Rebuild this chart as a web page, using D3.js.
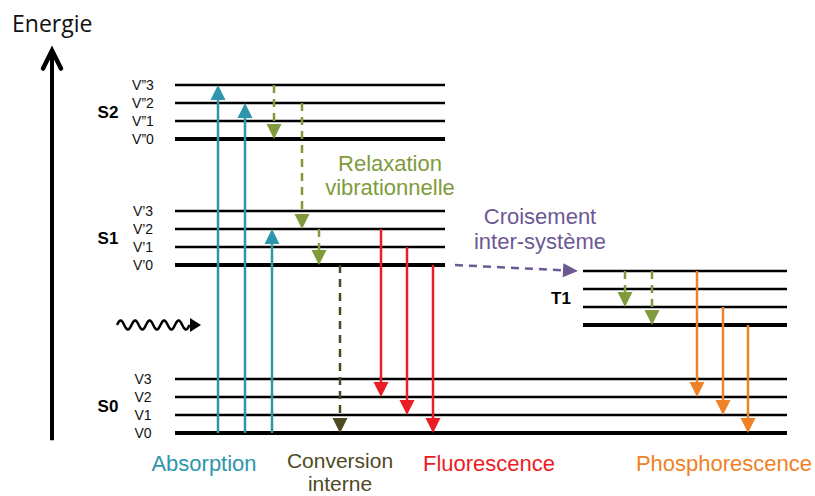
<!DOCTYPE html>
<html>
<head>
<meta charset="utf-8">
<script src="https://cdn.jsdelivr.net/npm/d3@7"></script>
<style>
  body { margin: 0; background: #fff; }
  svg { display: block; font-family: "Liberation Sans", Arial, sans-serif; }
</style>
</head>
<body>
<div id="chart"></div>
<script>
// electronic states: base energy (arbitrary units, 1 unit = one vibrational step)
var stateNames = ['S0', 'S1', 'S2', 'T1'];
var stateEnergy = [0, 9.33, 16.33, 6];
var stateSpan = [[175, 787], [175, 445], [175, 445], [583, 787]];
var vibLabels = [
    ['V0', 'V1', 'V2', 'V3'],
    ['V\u20190', 'V\u20191', 'V\u20192', 'V\u20193'],
    ['V\u201D0', 'V\u201D1', 'V\u201D2', 'V\u201D3'],
    null
];

// transitions: [type, x, fromState, fromVib, toState, toVib]
var transitions = [
    ['abs', 218, 'S0', 0, 'S2', 3],
    ['abs', 245, 'S0', 0, 'S2', 2],
    ['abs', 272, 'S0', 0, 'S1', 2],
    ['rel', 274, 'S2', 3, 'S2', 0],
    ['rel', 302, 'S2', 2, 'S1', 2],
    ['rel', 319, 'S1', 2, 'S1', 0],
    ['rel', 625, 'T1', 3, 'T1', 1],
    ['rel', 652, 'T1', 3, 'T1', 0],
    ['ic', 340, 'S1', 0, 'S0', 0],
    ['fluo', 381, 'S1', 2, 'S0', 2],
    ['fluo', 407, 'S1', 1, 'S0', 1],
    ['fluo', 433, 'S1', 0, 'S0', 0],
    ['phos', 697, 'T1', 3, 'S0', 2],
    ['phos', 723, 'T1', 1, 'S0', 1],
    ['phos', 748, 'T1', 0, 'S0', 0]
];
// inter-system crossing: [x0, state, vib, x1, state, vib]
var isc = [455, 'S1', 0, 578, 'T1', 3];

var typeColor = {
    abs: '#2e95ab', rel: '#7f9b3b', ic: '#4f4a23',
    fluo: '#ec1c24', phos: '#ef8127', isc: '#6c5993'
};

var width = 815, height = 496;
var svg = d3.select('#chart').append('svg')
    .attr('width', width).attr('height', height);

var y = d3.scaleLinear().domain([0, 20]).range([433, 73]);
var x = d3.scaleLinear().domain([0, 815]).range([0, 815]);

var energyOf = function(s, v) {
    return stateEnergy[stateNames.indexOf(s)] + v;
};

// energy axis
svg.append('line')
    .attr('x1', 52).attr('x2', 52)
    .attr('y1', y(-0.4)).attr('y2', y(21.3))
    .attr('stroke', '#000').attr('stroke-width', 4);
svg.append('path')
    .attr('d', 'M43,' + (y(21.3) + 19) + ' L52,' + (y(21.3) + 1) + ' L61,' + (y(21.3) + 19))
    .attr('fill', 'none').attr('stroke', '#000').attr('stroke-width', 4.5)
    .attr('stroke-linecap', 'round').attr('stroke-linejoin', 'miter');
svg.append('text')
    .attr('x', 12).attr('y', 32)
    .attr('font-size', 23).attr('font-family', '"Open Sans", sans-serif')
    .attr('fill', '#111')
    .text('Energie');

// vibrational levels
stateNames.forEach(function(s, i) {
    var g = svg.append('g');
    g.selectAll('line').data([0, 1, 2, 3]).enter().append('line')
        .attr('x1', x(stateSpan[i][0])).attr('x2', x(stateSpan[i][1]))
        .attr('y1', function(v) { return y(energyOf(s, v)); })
        .attr('y2', function(v) { return y(energyOf(s, v)); })
        .attr('stroke', '#000')
        .attr('stroke-width', function(v) { return v === 0 ? 4 : 2.5; });
    if (vibLabels[i]) {
        g.selectAll('text').data(vibLabels[i]).enter().append('text')
            .attr('x', 143)
            .attr('y', function(d, v) { return y(energyOf(s, v)); })
            .attr('text-anchor', 'middle').attr('dominant-baseline', 'central')
            .attr('font-size', 14).attr('fill', '#111')
            .text(function(d) { return d; });
    }
    g.append('text')
        .attr('x', s === 'T1' ? 561 : 108)
        .attr('y', y(energyOf(s, 1.5)))
        .attr('text-anchor', 'middle').attr('dominant-baseline', 'central')
        .attr('font-size', 17).attr('font-weight', 'bold')
        .text(s);
});

// arrows
var drawArrow = function(x1, y1, x2, y2, color, dashed, head) {
    var ang = Math.atan2(y2 - y1, x2 - x1);
    var hl = head[0], hw = head[1];
    var bx = x2 - hl * Math.cos(ang), by = y2 - hl * Math.sin(ang);
    svg.append('line')
        .attr('x1', x1).attr('y1', y1).attr('x2', bx).attr('y2', by)
        .attr('stroke', color).attr('stroke-width', 2.5)
        .attr('stroke-dasharray', dashed ? '8,6' : null);
    var px = -Math.sin(ang) * hw / 2, py = Math.cos(ang) * hw / 2;
    svg.append('path')
        .attr('d', 'M' + x2 + ',' + y2 + 'L' + (bx + px) + ',' + (by + py) +
            'L' + (bx - px) + ',' + (by - py) + 'Z')
        .attr('fill', color);
};

transitions.forEach(function(t) {
    var dashed = t[0] === 'rel' || t[0] === 'ic';
    drawArrow(x(t[1]), y(energyOf(t[2], t[3])), x(t[1]), y(energyOf(t[4], t[5])),
        typeColor[t[0]], dashed, [15, 15]);
});
drawArrow(x(isc[0]), y(energyOf(isc[1], isc[2])), x(isc[3]), y(energyOf(isc[4], isc[5])),
    typeColor.isc, true, [15, 14]);

// photon (wavy arrow)
var wave = d3.range(0, 73, 0.5).map(function(t) {
    return [117 + t, 325 - 4.5 * Math.sin(t / 14.5 * 2 * Math.PI)];
});
svg.append('path')
    .attr('d', d3.line()(wave))
    .attr('fill', 'none').attr('stroke', '#000').attr('stroke-width', 2.5);
svg.append('path')
    .attr('d', 'M201,325 L190,318 L190,332 Z').attr('fill', '#000');

// process labels
var labels = [
    ['Relaxation', 390, 163, 'rel', 22], ['vibrationnelle', 390, 187, 'rel', 22],
    ['Croisement', 540, 216, 'isc', 22], ['inter-syst\u00e8me', 540, 241, 'isc', 22],
    ['Absorption', 204, 463, 'abs', 22],
    ['Conversion', 340, 460, 'ic', 21], ['interne', 340, 483, 'ic', 21],
    ['Fluorescence', 489, 463, 'fluo', 22],
    ['Phosphorescence', 724, 463, 'phos', 22]
];
svg.selectAll('text.lab').data(labels).enter().append('text')
    .attr('class', 'lab')
    .attr('x', function(d) { return d[1]; })
    .attr('y', function(d) { return d[2]; })
    .attr('text-anchor', 'middle').attr('dominant-baseline', 'central')
    .attr('font-size', function(d) { return d[4]; })
    .attr('fill', function(d) { return typeColor[d[3]]; })
    .text(function(d) { return d[0]; });
</script>
</body>
</html>
